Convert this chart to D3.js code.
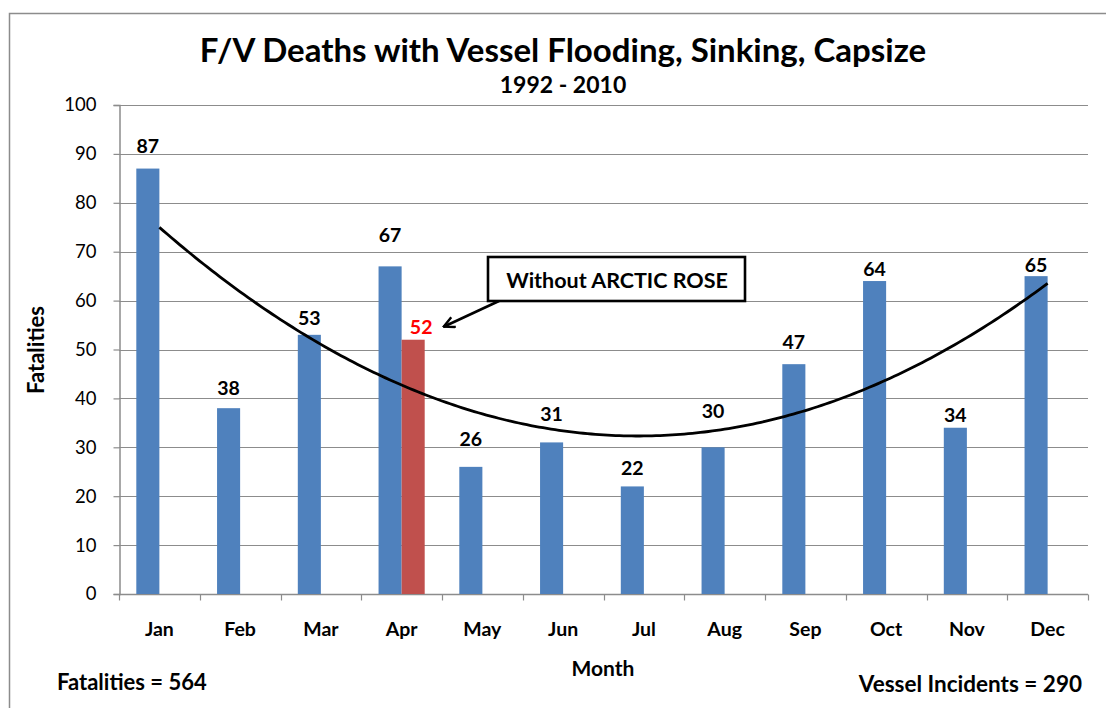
<!DOCTYPE html>
<html>
<head>
<meta charset="utf-8">
<script src="https://cdn.jsdelivr.net/npm/d3@7/dist/d3.min.js"></script>
<style>
  html, body { margin: 0; padding: 0; background: #fff; }
  svg { display: block; font-family: Lato, "Open Sans", sans-serif; }
</style>
</head>
<body>
<svg id="chart" width="1106" height="708"></svg>
<script>
// ---- data ----
const months = ["Jan","Feb","Mar","Apr","May","Jun","Jul","Aug","Sep","Oct","Nov","Dec"];
const fatalities = [87, 38, 53, 67, 26, 31, 22, 30, 47, 64, 34, 65];
const withoutArcticRose = [null, null, null, 52, null, null, null, null, null, null, null, null];
const yTicks = [0, 10, 20, 30, 40, 50, 60, 70, 80, 90, 100];
const seriesNames = ["Fatalities", "Without ARCTIC ROSE"];
const titleText = "F/V Deaths with Vessel Flooding, Sinking, Capsize";
const subtitleText = "1992 - 2010";
const totalFatalities = "Fatalities = 564";
const vesselIncidents = "Vessel Incidents = 290";
const calloutText = "Without ARCTIC ROSE";
// label gap above bar (px), as placed in the original
const labelGap = [16, 13, 10, 24, 21, 21, 11, 29, 15, 5, 6, 4];

const svg = d3.select("#chart");
const plot = { left: 119, right: 1088, top: 105, bottom: 594 };

// outer chart border
svg.append("rect").attr("x", 9.5).attr("y", 13.5).attr("width", 1200).attr("height", 1000)
  .attr("fill", "#fff").attr("stroke", "#8c8c8c").attr("stroke-width", 1.5);

const x = d3.scaleBand().domain(months).range([plot.left, plot.right]).paddingInner(0).paddingOuter(0);
const sub = d3.scaleBand().domain(seriesNames).range([0, x.bandwidth()]).paddingInner(0).paddingOuter(0.75);
const y = d3.scaleLinear().domain([0, 100]).range([plot.bottom, plot.top]);

// gridlines
svg.append("g").selectAll("line").data(yTicks.filter(d => d > 0)).join("line")
  .attr("x1", plot.left).attr("x2", plot.right)
  .attr("y1", d => Math.round(y(d)) + 0.5).attr("y2", d => Math.round(y(d)) + 0.5)
  .attr("stroke", "#8c8c8c").attr("stroke-width", 1.2);

// y axis
const yAxis = d3.axisLeft(y).tickValues(yTicks).tickSize(6).tickPadding(17).tickFormat(d3.format("d"));
const gy = svg.append("g").attr("transform", `translate(${plot.left + 0.5},0)`).call(yAxis);
gy.select(".domain").attr("stroke", "#8c8c8c").attr("stroke-width", 1.5);
gy.selectAll(".tick line").attr("stroke", "#8c8c8c").attr("stroke-width", 1.2);
gy.selectAll(".tick text").attr("font-family", "Lato").attr("font-size", 18.5).attr("fill", "#000");

// x axis with ticks at category boundaries
const gx = svg.append("g").attr("transform", `translate(0,${plot.bottom + 0.5})`);
gx.append("line").attr("x1", plot.left).attr("x2", plot.right).attr("stroke", "#8c8c8c").attr("stroke-width", 1.5);
const boundaries = months.map(m => x(m)).concat([plot.right]);
gx.selectAll("line.tk").data(boundaries).join("line").attr("class", "tk")
  .attr("x1", d => Math.round(d) + 0.5).attr("x2", d => Math.round(d) + 0.5)
  .attr("y1", 0).attr("y2", 6).attr("stroke", "#8c8c8c").attr("stroke-width", 1.2);
gx.selectAll("text").data(months).join("text")
  .attr("x", d => x(d) + x.bandwidth() / 2).attr("y", 41)
  .attr("text-anchor", "middle").attr("font-weight", "bold").attr("font-size", 19.5)
  .text(d => d);

// bars
const blue = "#4F81BD", red = "#C0504D";
svg.append("g").selectAll("rect").data(months.map((m, i) => ({ m, v: fatalities[i] }))).join("rect")
  .attr("x", d => x(d.m) + sub(seriesNames[0]))
  .attr("width", sub.bandwidth())
  .attr("y", d => y(d.v)).attr("height", d => y(0) - y(d.v))
  .attr("fill", blue);
const redData = months.map((m, i) => ({ m, v: withoutArcticRose[i] })).filter(d => d.v != null);
svg.append("g").selectAll("rect").data(redData).join("rect")
  .attr("x", d => x(d.m) + sub(seriesNames[1]))
  .attr("width", sub.bandwidth())
  .attr("y", d => y(d.v)).attr("height", d => y(0) - y(d.v))
  .attr("fill", red);

// data labels
svg.append("g").selectAll("text").data(months.map((m, i) => ({ m, v: fatalities[i], g: labelGap[i] }))).join("text")
  .attr("x", d => x(d.m) + sub(seriesNames[0]) + sub.bandwidth() / 2)
  .attr("y", d => y(d.v) - d.g)
  .attr("text-anchor", "middle").attr("font-weight", "bold").attr("font-size", 19.5)
  .text(d => d.v);
svg.append("g").selectAll("text").data(redData).join("text")
  .attr("x", d => x(d.m) + sub(seriesNames[1]) + sub.bandwidth() / 2 + 8)
  .attr("y", d => y(d.v) - 6)
  .attr("text-anchor", "middle").attr("font-weight", "bold").attr("font-size", 19.5)
  .attr("fill", "#FF0000")
  .text(d => d.v);

// polynomial (order 2) trendline fitted to the Fatalities series
(function () {
  const n = fatalities.length;
  let S = [0, 0, 0, 0, 0], T = [0, 0, 0];
  fatalities.forEach((v, i) => {
    const t = i + 1;
    for (let k = 0; k < 5; k++) S[k] += Math.pow(t, k);
    for (let k = 0; k < 3; k++) T[k] += v * Math.pow(t, k);
  });
  const A = [[S[0], S[1], S[2], T[0]], [S[1], S[2], S[3], T[1]], [S[2], S[3], S[4], T[2]]];
  for (let c = 0; c < 3; c++) {
    for (let r = c + 1; r < 3; r++) {
      const f = A[r][c] / A[c][c];
      for (let k = c; k < 4; k++) A[r][k] -= f * A[c][k];
    }
  }
  const coef = [0, 0, 0];
  for (let r = 2; r >= 0; r--) {
    let s = A[r][3];
    for (let k = r + 1; k < 3; k++) s -= A[r][k] * coef[k];
    coef[r] = s / A[r][r];
  }
  const xt = d3.scaleLinear().domain([1, n])
    .range([x(months[0]) + x.bandwidth() / 2, x(months[n - 1]) + x.bandwidth() / 2]);
  const pts = d3.range(1, n + 0.001, 0.05).map(t => [t, coef[0] + coef[1] * t + coef[2] * t * t]);
  svg.append("path").datum(pts)
    .attr("d", d3.line().x(d => xt(d[0])).y(d => y(d[1])))
    .attr("fill", "none").attr("stroke", "#000").attr("stroke-width", 2.8);
})();

// callout box with arrow
svg.append("defs").append("marker").attr("id", "arr")
  .attr("viewBox", "0 0 12 12").attr("refX", 11).attr("refY", 6)
  .attr("markerWidth", 13).attr("markerHeight", 13).attr("markerUnits", "userSpaceOnUse")
  .attr("orient", "auto")
  .append("path").attr("d", "M1,1 L11,6 L1,11").attr("fill", "none").attr("stroke", "#000").attr("stroke-width", 2.2);
const aprRedRight = x("Apr") + sub(seriesNames[1]) + sub.bandwidth();
svg.append("line")
  .attr("x1", 499).attr("y1", 301)
  .attr("x2", aprRedRight + 19).attr("y2", y(withoutArcticRose[3]) - 13)
  .attr("stroke", "#000").attr("stroke-width", 2.6).attr("marker-end", "url(#arr)");
svg.append("rect").attr("x", 488).attr("y", 257).attr("width", 257).attr("height", 44)
  .attr("fill", "#fff").attr("stroke", "#000").attr("stroke-width", 2.6);
svg.append("text").attr("x", 617).attr("y", 288).attr("text-anchor", "middle")
  .attr("font-weight", "bold").attr("font-size", 21.5).text(calloutText);

// titles
svg.append("text").attr("x", 563).attr("y", 62).attr("text-anchor", "middle")
  .attr("font-weight", "bold").attr("font-size", 33).text(titleText);
svg.append("text").attr("x", 563).attr("y", 93).attr("text-anchor", "middle")
  .attr("font-weight", "bold").attr("font-size", 23).text(subtitleText);
svg.append("text").attr("transform", "translate(44,350) rotate(-90)").attr("text-anchor", "middle")
  .attr("font-weight", "bold").attr("font-size", 22).text("Fatalities");
svg.append("text").attr("x", 603).attr("y", 676).attr("text-anchor", "middle")
  .attr("font-weight", "bold").attr("font-size", 21).text("Month");
svg.append("text").attr("x", 57).attr("y", 690)
  .attr("font-weight", "bold").attr("font-size", 22).text(totalFatalities);
svg.append("text").attr("x", 1082).attr("y", 692).attr("text-anchor", "end")
  .attr("font-weight", "bold").attr("font-size", 22.5).text(vesselIncidents);
</script>
</body>
</html>
